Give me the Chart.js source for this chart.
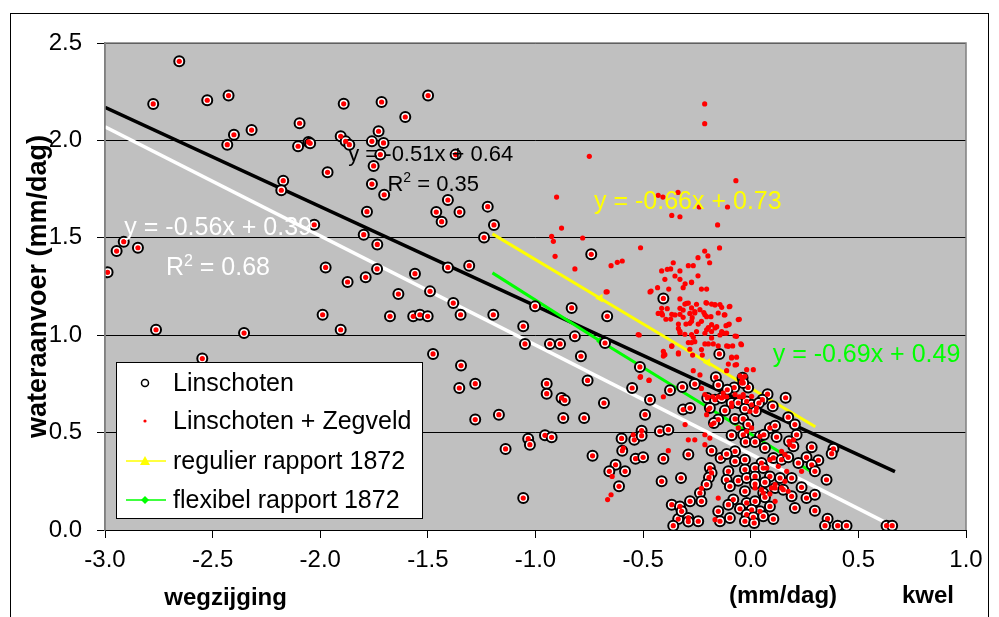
<!DOCTYPE html>
<html>
<head>
<meta charset="utf-8">
<script src="https://cdn.jsdelivr.net/npm/chart.js@4.4.1/dist/chart.umd.min.js"></script>
<style>
  html, body { margin: 0; padding: 0; background: #fff; }
  #chart { display: block; }
</style>
</head>
<body>
<canvas id="chart" width="999" height="617"></canvas>
<script>
// Linschoten measurements (open circles), x = kwel/wegzijging, y = wateraanvoer
const linschoten = [
  [-2.655,2.406],[-2.776,2.187],[-2.525,2.206],[-2.426,2.230],[-2.401,2.029],[-2.432,1.978],[-2.319,2.053],
  [-2.096,2.088],[-2.103,1.970],[-2.055,1.992],[-2.047,1.985],[-1.891,2.188],[-1.715,2.197],[-1.905,2.021],
  [-1.882,1.995],[-1.865,1.978],[-1.729,2.047],[-1.760,1.995],[-1.706,1.987],[-1.721,1.927],[-1.966,1.836],
  [-1.752,1.869],[-2.172,1.793],[-2.181,1.744],[-1.760,1.776],[-1.703,1.721],[-1.783,1.634],[-2.028,1.567],
  [-1.798,1.516],[-1.735,1.466],[-2.913,1.480],[-2.946,1.432],[-2.847,1.449],[-2.988,1.323],[-1.975,1.348],
  [-1.736,1.340],[-1.873,1.273],[-1.789,1.297],
  [-1.499,2.230],[-1.605,2.120],[-1.371,1.927],[-1.407,1.694],[-1.461,1.632],[-1.353,1.632],[-1.436,1.583],
  [-1.222,1.660],[-1.193,1.566],[-1.239,1.501],[-0.741,1.415],[-1.560,1.316],[-1.407,1.348],[-1.308,1.357],
  [-2.763,1.028],[-2.354,1.011],[-1.989,1.105],[-1.905,1.028],[-1.676,1.097],[-2.548,0.880],
  [-1.637,1.211],[-1.490,1.225],[-1.382,1.165],[-1.568,1.097],[-1.537,1.105],[-1.501,1.097],[-1.348,1.105],
  [-1.196,1.105],[-1.002,1.148],[-0.832,1.140],[-0.667,1.097],[-1.057,1.046],[-1.049,0.955],[-0.933,0.955],
  [-0.886,0.955],[-0.817,0.994],[-0.677,0.960],[-0.789,0.892],[-1.476,0.904],[-1.346,0.844],[-0.515,0.837],
  [-0.758,0.768],[-0.551,0.729],[-0.948,0.751],[-0.948,0.700],[-0.879,0.678],[-0.864,0.666],[-0.682,0.652],
  [-0.491,0.592],[-0.468,0.669],[-0.375,0.717],[-0.318,0.734],[-0.314,0.618],[-1.354,0.729],[-1.280,0.751],
  [-1.170,0.592],[-1.280,0.567],[-0.871,0.575],[-0.774,0.575],[-0.956,0.486],[-0.925,0.476],[-1.034,0.469],
  [-1.026,0.438],[-1.139,0.416],[-0.735,0.381],[-0.600,0.470],[-0.541,0.463],[-0.507,0.510],[-0.507,0.484],
  [-0.422,0.507],[-0.383,0.515],[-0.597,0.407],[-0.535,0.366],[-0.500,0.373],[-0.406,0.366],[-0.628,0.335],
  [-0.657,0.301],[-0.584,0.301],[-0.612,0.224],[-0.414,0.250],[-0.324,0.267],[-1.057,0.164],[-0.367,0.130],
  [-0.329,0.121],[-0.337,0.056],[-0.360,0.022],[-0.321,0.096],
  [-0.406,1.189],[-0.146,0.904],[-0.260,0.749],[-0.162,0.784],[-0.038,0.782],[-0.077,0.731],[-0.012,0.732],
  [-0.151,0.744],[0.078,0.697],[0.162,0.679],
  [-0.109,0.720],[-0.035,0.755],[0.054,0.669],[0.102,0.635],[-0.202,0.678],[-0.166,0.669],[-0.135,0.678],
  [-0.089,0.652],[-0.058,0.652],[-0.019,0.660],[0.004,0.643],[0.038,0.652],[-0.282,0.626],[-0.190,0.626],
  [-0.120,0.613],[-0.027,0.623],[0.024,0.609],[0.174,0.579],[0.205,0.541],[-0.151,0.567],[-0.073,0.570],
  [-0.035,0.570],[-0.171,0.549],[-0.012,0.541],[0.089,0.524],[0.113,0.535],[-0.089,0.486],[-0.035,0.489],
  [0.043,0.481],[0.061,0.489],[0.120,0.477],[0.213,0.489],[-0.024,0.452],[0.020,0.452],[0.178,0.455],
  [0.198,0.430],[0.283,0.425],[0.384,0.417],[0.376,0.392],[-0.182,0.407],[-0.290,0.387],[-0.140,0.370],
  [-0.073,0.404],[-0.112,0.390],[-0.027,0.361],[0.066,0.421],[0.105,0.370],[0.143,0.361],[0.174,0.373],
  [0.259,0.373],[0.314,0.358],[0.221,0.344],[-0.073,0.353],[0.283,0.335],[0.050,0.344],[0.020,0.318],
  [-0.190,0.318],[-0.182,0.293],[-0.104,0.301],[-0.027,0.310],[0.058,0.318],[0.298,0.301],[0.352,0.258],
  [-0.194,0.270],[-0.112,0.258],[-0.058,0.253],[-0.019,0.267],[0.020,0.275],[0.089,0.275],[0.136,0.267],
  [0.190,0.267],[0.236,0.219],[-0.205,0.233],[-0.097,0.224],[0.020,0.236],[0.066,0.245],[0.113,0.216],
  [0.151,0.207],[-0.027,0.199],[-0.236,0.190],[0.058,0.190],[0.259,0.164],[0.298,0.181],[0.190,0.173],
  [-0.282,0.147],[-0.229,0.147],[-0.081,0.156],[-0.019,0.139],[0.066,0.168],[0.020,0.147],[-0.104,0.130],
  [-0.050,0.109],[0.089,0.121],[0.043,0.096],[0.004,0.104],[0.205,0.113],[0.298,0.099],[-0.151,0.096],
  [-0.019,0.079],[-0.097,0.062],[0.012,0.065],[0.058,0.070],[0.105,0.056],[-0.290,0.062],[-0.244,0.045],
  [-0.143,0.045],[-0.027,0.045],[0.016,0.036],[0.357,0.058],[0.345,0.022],[0.404,0.022],[0.445,0.022],
  [0.631,0.022],[0.657,0.022],[-0.290,0.043]
];

// extra points of Zegveld (only red dots, no circle)
const zegveldExtra = [
  [-0.750,1.918],[-0.902,1.709],[-0.879,1.550],[-0.925,1.507],[-0.917,1.482],[-0.781,1.499],[-0.909,1.405],
  [-0.512,1.449],[-0.817,1.340],[-0.649,1.357],[-0.620,1.374],[-0.597,1.381],[-0.430,1.718],[-0.408,1.709],
  [-0.338,1.733],[-0.367,1.615],[-0.329,1.608],
  [-0.214,2.187],[-0.214,2.086],[-0.069,1.793],[-0.239,1.658],[-0.108,1.658],[-0.154,1.566],[-0.145,1.448],
  [-0.214,1.432],[-0.199,1.407],[-0.245,1.398],[-0.191,1.372],[-0.290,1.357],[-0.267,1.357],[-0.245,1.305],
  [-0.275,1.273],[-0.305,1.264],
  [-0.360,1.372],[-0.414,1.330],[-0.388,1.338],[-0.372,1.340],[-0.329,1.330],[-0.352,1.304],[-0.329,1.287],
  [-0.399,1.287],[-0.275,1.270],[-0.314,1.244],[-0.229,1.237],[-0.205,1.237],[-0.433,1.244],[-0.463,1.227],
  [-0.667,1.223],[-0.381,1.237],[-0.329,1.186],[-0.298,1.164],[-0.252,1.159],[-0.208,1.167],[-0.182,1.160],
  [-0.166,1.155],[-0.135,1.143],[-0.100,1.146],[-0.414,1.138],[-0.388,1.136],[-0.329,1.138],[-0.306,1.160],
  [-0.314,1.129],[-0.283,1.112],[-0.260,1.121],[-0.218,1.116],[-0.430,1.112],[-0.410,1.104],[-0.367,1.107],
  [-0.352,1.104],[-0.329,1.107],[-0.314,1.092],[-0.272,1.090],[-0.205,1.095],[-0.185,1.095],[-0.123,1.104],
  [-0.053,1.082],[-0.394,1.082],[-0.372,1.083],[-0.336,1.057],[-0.301,1.057],[-0.283,1.061],[-0.244,1.057],
  [-0.197,1.039],[-0.158,1.044],[-0.115,1.049],[-0.100,1.057],[-0.336,1.035],[-0.329,1.013],[-0.306,1.005],
  [-0.252,1.019],[-0.213,1.010],[-0.182,1.019],[-0.135,1.019],[-0.143,1.001],[-0.120,1.010],[-0.073,0.996],
  [-0.518,1.001],[-0.267,0.989],[-0.260,0.967],[-0.290,0.962],[-0.275,0.962],[-0.213,0.955],[-0.197,0.955],
  [-0.174,0.955],[-0.151,0.945],[-0.112,0.945],[-0.084,0.945],[-0.046,0.955],[-0.367,0.945],[-0.336,0.904],
  [-0.283,0.928],[-0.403,0.904],[-0.406,0.893],[-0.270,0.898],[-0.225,0.898],[-0.089,0.887],[-0.066,0.887],
  [-0.073,0.847],[-0.104,0.852],[-0.112,0.818],[-0.267,0.818],[-0.236,0.796],[-0.512,0.787],[-0.472,0.770],
  [-0.050,0.791],[-0.040,0.770],[-0.229,0.727],[-0.200,0.684],[-0.177,0.684],[-0.151,0.684],[-0.128,0.684],
  [-0.112,0.684],[-0.053,0.684],[-0.035,0.684],[-0.406,0.684],
  [-0.151,0.164],[-0.166,0.053],[-0.213,0.489],[-0.290,1.165],[-0.275,1.140],[-0.260,1.114],[-0.236,1.131],
  [-0.205,1.165],[-0.166,1.157],[-0.143,1.157],[-0.097,1.148],[-0.213,1.105],[-0.151,1.114],[-0.120,1.105],
  [-0.275,1.071],[-0.229,1.071],[-0.182,1.054],[-0.104,1.054],[-0.058,1.080],[-0.205,1.028],[-0.166,1.037],
  [-0.135,1.011],[-0.112,1.011],[-0.066,0.994],[-0.275,1.003],[-0.182,0.986],[-0.229,0.926],[-0.104,0.943],
  [-0.043,0.951],[-0.089,0.883],[-0.066,0.849],[-0.019,0.823],[0.012,0.823],[-0.027,0.789],[-0.043,0.755],
  [-0.073,0.695],[-0.035,0.695],[0.004,0.686],[0.027,0.626],[-0.004,0.609],[-0.089,0.635],[-0.197,0.618],
  [-0.205,0.592],[-0.182,0.541],[-0.058,0.524],[-0.019,0.507],[0.004,0.524],[0.143,0.404],[0.182,0.438],
  [0.198,0.463],[0.159,0.387],[0.089,0.361],[0.074,0.318],[0.128,0.327],[0.167,0.301],[0.236,0.301],
  [0.159,0.250],[0.113,0.233],[0.143,0.216],[0.097,0.216],[0.174,0.199],[0.020,0.216],[0.050,0.207],
  [0.089,0.185],[0.113,0.147],[-0.290,0.463],[-0.260,0.463],[-0.213,0.438],[-0.305,0.541],[-0.213,0.695],
  [-0.128,0.703],[-0.190,0.472],
  [-0.672,1.222],[-0.468,1.222],[-0.523,1.003],[-0.514,0.784],[-0.473,0.768],[-0.383,0.407],[-0.546,0.489],
  [-0.644,0.275],[-0.649,0.181],[-0.665,0.156],[-0.592,0.421],[-0.406,0.917],[-0.399,0.900],[-0.367,0.943],
  [-0.336,0.909],[-0.329,1.020],[-0.414,1.114],[-0.229,0.214]
];

// Rapport 1872 lines
const regulierX = [-1.2, -0.7, -0.2, 0.3];
const regulierY = [1.52, 1.19, 0.86, 0.53];
const flexibelX = [-1.2, -0.7, -0.2, 0.28];
const flexibelY = [1.32, 0.97, 0.63, 0.30];

// trendlines (end points)
const trendBlackX = [-3.0, 0.67];
const trendBlackY = [2.17, 0.30];
const trendWhiteX = [-3.0, 0.66];
const trendWhiteY = [2.07, 0.02];

const xTitles = ['wegzijging', '(mm/dag)', 'kwel'];
const yTitle = 'wateraanvoer (mm/dag)';
const legendLabels = ['Linschoten', 'Linschoten + Zegveld', 'regulier rapport 1872', 'flexibel rapport 1872'];

const FONT = '"Liberation Sans", Arial, sans-serif';

const toPts = (pairs) => pairs.map(p => ({x: p[0], y: p[1]}));
const zip = (xs, ys) => xs.map((x, i) => ({x: x, y: ys[i]}));

// background, frame and plot area
const backgroundPlugin = {
  id: 'plotBackground',
  beforeDraw(chart) {
    const {ctx, chartArea: a, width, height} = chart;
    ctx.save();
    ctx.fillStyle = '#fff';
    ctx.fillRect(0, 0, width, height);
    ctx.strokeStyle = '#000';
    ctx.lineWidth = 1;
    ctx.strokeRect(10.5, 13.5, width - 21, height);
    ctx.fillStyle = '#C0C0C0';
    ctx.fillRect(a.left, a.top, a.right - a.left, a.bottom - a.top);
    ctx.restore();
  },
  afterDraw(chart) {
    const {ctx, chartArea: a, scales} = chart;
    ctx.save();
    // grey frame of plot area
    ctx.strokeStyle = '#808080';
    ctx.lineWidth = 1.5;
    ctx.beginPath();
    ctx.moveTo(a.left, a.bottom);
    ctx.lineTo(a.left, a.top);
    ctx.lineTo(a.right, a.top);
    ctx.lineTo(a.right, a.bottom);
    ctx.stroke();
    // x axis titles
    ctx.fillStyle = '#000';
    ctx.font = 'bold 24px ' + FONT;
    ctx.textAlign = 'center';
    ctx.textBaseline = 'alphabetic';
    const xs = [-2.44, 0.15, 0.823];
    const base = [605, 603, 603];
    xTitles.forEach((t, i) => ctx.fillText(t, scales.x.getPixelForValue(xs[i]), base[i]));
    ctx.restore();
  }
};

// equations and R2 labels
function drawEq(ctx, text, x, y, size, color) {
  ctx.fillStyle = color;
  ctx.textAlign = 'left';
  ctx.textBaseline = 'alphabetic';
  ctx.font = size + 'px ' + FONT;
  if (text.startsWith('R2')) {
    ctx.fillText('R', x, y);
    let w = ctx.measureText('R').width;
    ctx.font = Math.round(size * 0.62) + 'px ' + FONT;
    ctx.fillText('2', x + w, y - size * 0.38);
    w += ctx.measureText('2').width;
    ctx.font = size + 'px ' + FONT;
    ctx.fillText(text.slice(2), x + w, y);
  } else {
    ctx.fillText(text, x, y);
  }
}

const labelPlugin = {
  id: 'eqLabels',
  afterDatasetsDraw(chart) {
    const {ctx, scales: {x, y}, chartArea: a} = chart;
    ctx.save();
    const eqs = [
      ['y = -0.51x + 0.64', -1.870, 1.894, 22, '#000000'],
      ['R2 = 0.35', -1.688, 1.742, 22, '#000000'],
      ['y = -0.56x + 0.39', -2.910, 1.514, 25, '#FFFFFF'],
      ['R2 = 0.68', -2.717, 1.309, 25, '#FFFFFF'],
      ['y = -0.66x + 0.73', -0.728, 1.649, 25, '#FFFF00'],
      ['y = -0.69x + 0.49', 0.102, 0.864, 25, '#00FF00']
    ];
    eqs.forEach(e => drawEq(ctx, e[0], x.getPixelForValue(e[1]), y.getPixelForValue(e[2]), e[3], e[4]));

    // legend box inside plot
    const lx = a.left + 11, ly = a.top + 319, lw = 306, lh = 156;
    ctx.fillStyle = '#fff';
    ctx.fillRect(lx, ly, lw, lh);
    ctx.strokeStyle = '#000';
    ctx.lineWidth = 1;
    ctx.strokeRect(lx + 0.5, ly + 0.5, lw, lh);
    const rows = [21, 59, 99, 138];
    const mx = lx + 29;
    ctx.font = '25px ' + FONT;
    ctx.textBaseline = 'middle';
    ctx.textAlign = 'left';
    rows.forEach((r, i) => {
      const cy = ly + r;
      if (i === 0) {
        ctx.beginPath();
        ctx.arc(mx, cy, 3.5, 0, Math.PI * 2);
        ctx.fillStyle = '#fff';
        ctx.fill();
        ctx.strokeStyle = '#000';
        ctx.lineWidth = 1.5;
        ctx.stroke();
      } else if (i === 1) {
        ctx.beginPath();
        ctx.arc(mx, cy, 1.6, 0, Math.PI * 2);
        ctx.fillStyle = '#FF0000';
        ctx.fill();
      } else {
        const col = i === 2 ? '#FFFF00' : '#00FF00';
        ctx.strokeStyle = col;
        ctx.lineWidth = 1.5;
        ctx.beginPath();
        ctx.moveTo(mx - 19, cy);
        ctx.lineTo(mx + 21, cy);
        ctx.stroke();
        ctx.fillStyle = col;
        ctx.beginPath();
        if (i === 2) {
          ctx.moveTo(mx, cy - 5);
          ctx.lineTo(mx + 5, cy + 4);
          ctx.lineTo(mx - 5, cy + 4);
        } else {
          ctx.moveTo(mx, cy - 4);
          ctx.lineTo(mx + 4, cy);
          ctx.lineTo(mx, cy + 4);
          ctx.lineTo(mx - 4, cy);
        }
        ctx.closePath();
        ctx.fill();
      }
      ctx.fillStyle = '#000';
      ctx.fillText(legendLabels[i], lx + 57, cy + 1);
    });
    ctx.restore();
  }
};

const tickFmt = (v) => Number(v).toFixed(1);

new Chart(document.getElementById('chart'), {
  type: 'scatter',
  data: {
    datasets: [
      {
        label: legendLabels[1],
        data: toPts(linschoten.concat(zegveldExtra)),
        pointRadius: 2.6,
        pointBorderWidth: 0,
        backgroundColor: '#FF0000',
        borderColor: '#FF0000',
        order: 0
      },
      {
        label: legendLabels[0],
        data: toPts(linschoten),
        pointRadius: 5,
        pointBorderWidth: 2,
        backgroundColor: '#FFFFFF',
        borderColor: '#000000',
        order: 1
      },
      {
        label: legendLabels[2],
        data: zip(regulierX, regulierY),
        showLine: true,
        borderColor: '#FFFF00',
        backgroundColor: '#FFFF00',
        borderWidth: 3,
        pointStyle: 'triangle',
        pointRotation: 30,
        pointRadius: [0, 5, 5, 0],
        pointBorderWidth: 0,
        order: 2
      },
      {
        label: legendLabels[3],
        data: zip(flexibelX, flexibelY),
        showLine: true,
        borderColor: '#00FF00',
        backgroundColor: '#00FF00',
        borderWidth: 3,
        pointStyle: 'rectRot',
        pointRadius: [0, 4, 4, 0],
        pointBorderWidth: 0,
        order: 3
      },
      {
        label: 'trend zwart',
        data: zip(trendBlackX, trendBlackY),
        showLine: true,
        borderColor: '#000000',
        borderWidth: 3.5,
        pointRadius: 0,
        order: 4
      },
      {
        label: 'trend wit',
        data: zip(trendWhiteX, trendWhiteY),
        showLine: true,
        borderColor: '#FFFFFF',
        borderWidth: 3.5,
        pointRadius: 0,
        order: 5
      }
    ]
  },
  options: {
    responsive: false,
    animation: false,
    devicePixelRatio: 1,
    layout: { padding: { left: 10, top: 43, right: 33, bottom: 0 } },
    plugins: {
      legend: { display: false },
      tooltip: { enabled: false }
    },
    scales: {
      x: {
        type: 'linear',
        min: -3,
        max: 1,
        ticks: {
          stepSize: 0.5,
          callback: tickFmt,
          color: '#000',
          font: { size: 24, family: FONT },
          padding: 8,
          maxRotation: 0,
          autoSkip: false
        },
        grid: { drawOnChartArea: false, drawTicks: true, tickLength: 8, color: '#000' },
        border: { color: '#000', width: 1 },
        afterFit(scale) { scale.height = 87; }
      },
      y: {
        min: 0,
        max: 2.5,
        ticks: {
          stepSize: 0.5,
          callback: tickFmt,
          color: '#000',
          font: { size: 24, family: FONT },
          padding: 15
        },
        grid: { color: '#000', tickLength: 8, lineWidth: 1 },
        border: { color: '#808080', width: 1.5 },
        title: {
          display: true,
          text: yTitle,
          color: '#000',
          font: { size: 27, weight: 'bold', family: FONT },
          padding: { top: 12, bottom: 0 }
        },
        afterFit(scale) { scale.width = 95; }
      }
    }
  },
  plugins: [backgroundPlugin, labelPlugin]
});
</script>
</body>
</html>
